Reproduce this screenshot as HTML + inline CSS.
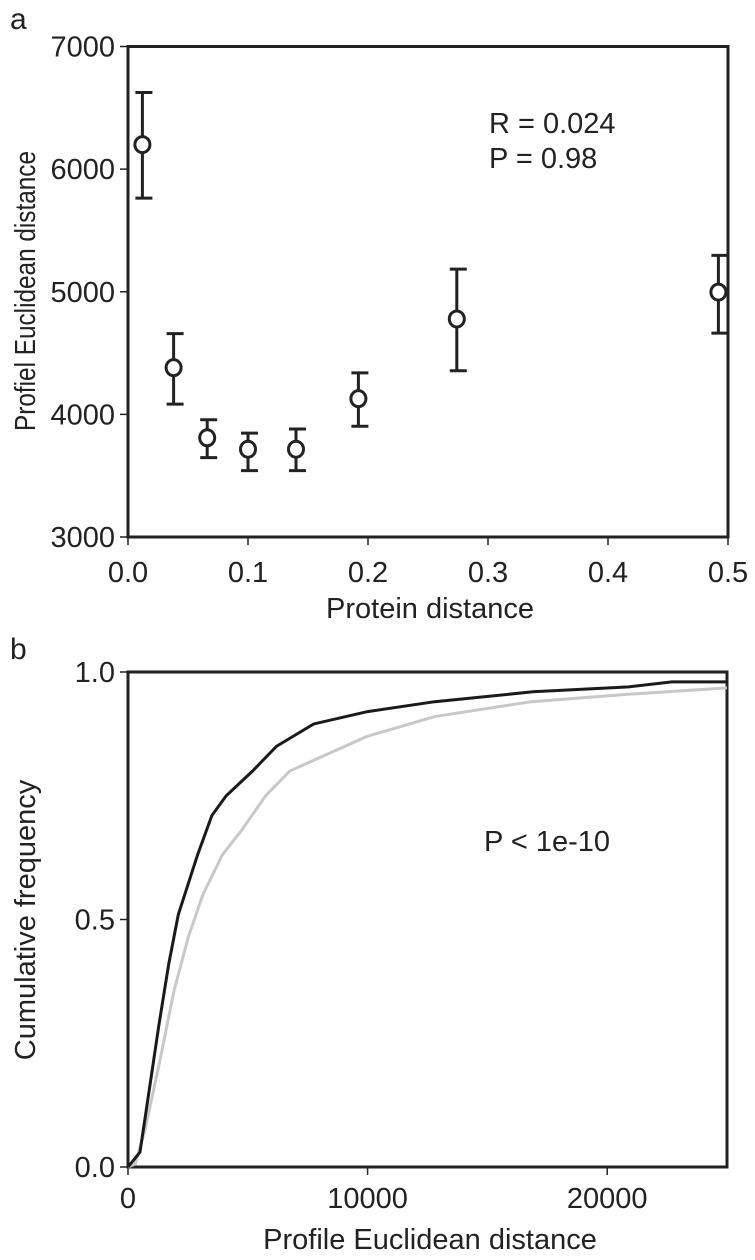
<!DOCTYPE html>
<html><head><meta charset="utf-8"><style>
html,body{margin:0;padding:0;background:#fff;}
svg{display:block;font-family:"Liberation Sans",Arial,sans-serif;}
</style></head><body>
<svg id="fig" width="755" height="1260" viewBox="0 0 755 1260">
<text x="10" y="29" font-size="30" fill="#222">a</text>
<text x="10" y="659" font-size="30" fill="#222">b</text>
<g id="pa"></g>
<g id="pb"></g>
</svg>
<script>
// Panel a data
const aX = [0.012, 0.038, 0.066, 0.100, 0.140, 0.192, 0.274, 0.492];
const aY = [6200, 4381, 3809, 3716, 3716, 4128, 4778, 4997];
const aHi = [6625, 4659, 3956, 3847, 3881, 4338, 5184, 5297];
const aLo = [5763, 4084, 3647, 3541, 3541, 3903, 4356, 4663];
const aXTicks = [0, 0.1, 0.2, 0.3, 0.4, 0.5];
const aXTickLabels = ["0.0", "0.1", "0.2", "0.3", "0.4", "0.5"];
const aYTicks = [3000, 4000, 5000, 6000, 7000];
const aYTickLabels = ["3000", "4000", "5000", "6000", "7000"];
// Panel b data
const bBlackX = [0, 500, 900, 1300, 1700, 2100, 2500, 2900, 3500, 4100, 5200, 6200, 7750, 10000, 12800, 16900, 20900, 22700, 25000];
const bBlackY = [0, 0.03, 0.16, 0.29, 0.41, 0.51, 0.57, 0.63, 0.71, 0.75, 0.80, 0.85, 0.895, 0.92, 0.94, 0.96, 0.97, 0.98, 0.98];
const bGreyX = [0, 302, 706, 1310, 1915, 2520, 3125, 3931, 4738, 5746, 6754, 8367, 9980, 12800, 16835, 20867, 25000];
const bGreyY = [0, 0.006, 0.074, 0.21, 0.355, 0.465, 0.55, 0.63, 0.68, 0.75, 0.80, 0.835, 0.87, 0.91, 0.94, 0.955, 0.968];
const bXTicks = [0, 10000, 20000];
const bXTickLabels = ["0", "10000", "20000"];
const bYTicks = [0, 0.5, 1];
const bYTickLabels = ["0.0", "0.5", "1.0"];

const NS = "http://www.w3.org/2000/svg";
function mk(parent, tag, attrs, text) {
  const e = document.createElementNS(NS, tag);
  for (const k in attrs) e.setAttribute(k, attrs[k]);
  if (text !== undefined) e.textContent = text;
  parent.appendChild(e);
  return e;
}
const C = "#222";
const FS = 29;

// ----- Panel a -----
const pa = document.getElementById("pa");
const ax = v => 128 + (v - 0) / 0.5 * 600;
const ay = v => 537 - (v - 3000) / 4000 * 490.5;
let e;
e = mk(pa, "rect", {x: 128, y: 46.5, width: 600, height: 490.5, fill: "none", stroke: C, "stroke-width": 3});


aXTicks.forEach((t, i) => {
  e = mk(pa, "line", {x1: ax(t), x2: ax(t), y1: 537, y2: 545, stroke: C, "stroke-width": 1.5});
  
  
  e = mk(pa, "text", {x: ax(t), y: 582, "font-size": FS, "text-anchor": "middle", fill: C}, aXTickLabels[i]);
  
  
});
aYTicks.forEach((t, i) => {
  e = mk(pa, "line", {x1: 120, x2: 128, y1: ay(t), y2: ay(t), stroke: C, "stroke-width": 1.5});
  
  
  e = mk(pa, "text", {x: 115, y: ay(t) + 10, "font-size": FS, "text-anchor": "end", fill: C}, aYTickLabels[i]);
  
  
});
aX.forEach((x, i) => {
  const cx = ax(x);
  const g = mk(pa, "g", {stroke: C, "stroke-width": 3, fill: "none"});
  
  
  mk(g, "line", {x1: cx, x2: cx, y1: ay(aHi[i]), y2: ay(aLo[i])});
  mk(g, "line", {x1: cx - 7, x2: cx + 10, y1: ay(aHi[i]), y2: ay(aHi[i])});
  mk(g, "line", {x1: cx - 7, x2: cx + 10, y1: ay(aLo[i]), y2: ay(aLo[i])});
  mk(g, "ellipse", {cx: cx, cy: ay(aY[i]), rx: 7.5, ry: 8, fill: "#fff"});
});
e = mk(pa, "text", {x: 489, y: 133, "font-size": FS, fill: C}, "R = 0.024");


e = mk(pa, "text", {x: 489, y: 168, "font-size": FS, fill: C}, "P = 0.98");


e = mk(pa, "text", {x: 430, y: 618, "font-size": FS, "text-anchor": "middle", fill: C}, "Protein distance");


e = mk(pa, "text", {x: 0, y: 0, "font-size": FS, "text-anchor": "middle", fill: C, textLength: 280, lengthAdjust: "spacingAndGlyphs", transform: "translate(35,291) rotate(-90)"}, "Profiel Euclidean distance");



// ----- Panel b -----
const pb = document.getElementById("pb");
const bx = v => 128 + v / 25000 * 599;
const by = v => 1167 - v * 495;
e = mk(pb, "rect", {x: 128, y: 672, width: 599, height: 495, fill: "none", stroke: C, "stroke-width": 3});


bXTicks.forEach((t, i) => {
  e = mk(pb, "line", {x1: bx(t), x2: bx(t), y1: 1167, y2: 1175, stroke: C, "stroke-width": 1.5});
  
  
  e = mk(pb, "text", {x: bx(t), y: 1208, "font-size": FS, "text-anchor": "middle", fill: C}, bXTickLabels[i]);
  
  
});
bYTicks.forEach((t, i) => {
  e = mk(pb, "line", {x1: 120, x2: 128, y1: by(t), y2: by(t), stroke: C, "stroke-width": 1.5});
  
  
  e = mk(pb, "text", {x: 115, y: by(t) + 10, "font-size": FS, "text-anchor": "end", fill: C}, bYTickLabels[i]);
  
  
});
function pts(xs, ys) { return xs.map((x, i) => bx(x) + "," + by(ys[i])).join(" "); }
e = mk(pb, "polyline", {points: pts(bGreyX, bGreyY), fill: "none", stroke: "#c8c8c8", "stroke-width": 3});


e = mk(pb, "polyline", {points: pts(bBlackX, bBlackY), fill: "none", stroke: "#1a1a1a", "stroke-width": 3});


e = mk(pb, "text", {x: 484, y: 851, "font-size": FS, fill: C}, "P < 1e-10");


e = mk(pb, "text", {x: 430, y: 1249, "font-size": FS, "text-anchor": "middle", fill: C}, "Profile Euclidean distance");


e = mk(pb, "text", {x: 0, y: 0, "font-size": FS, "text-anchor": "middle", fill: C, transform: "translate(35,920) rotate(-90)"}, "Cumulative frequency");


</script>
</body></html>
